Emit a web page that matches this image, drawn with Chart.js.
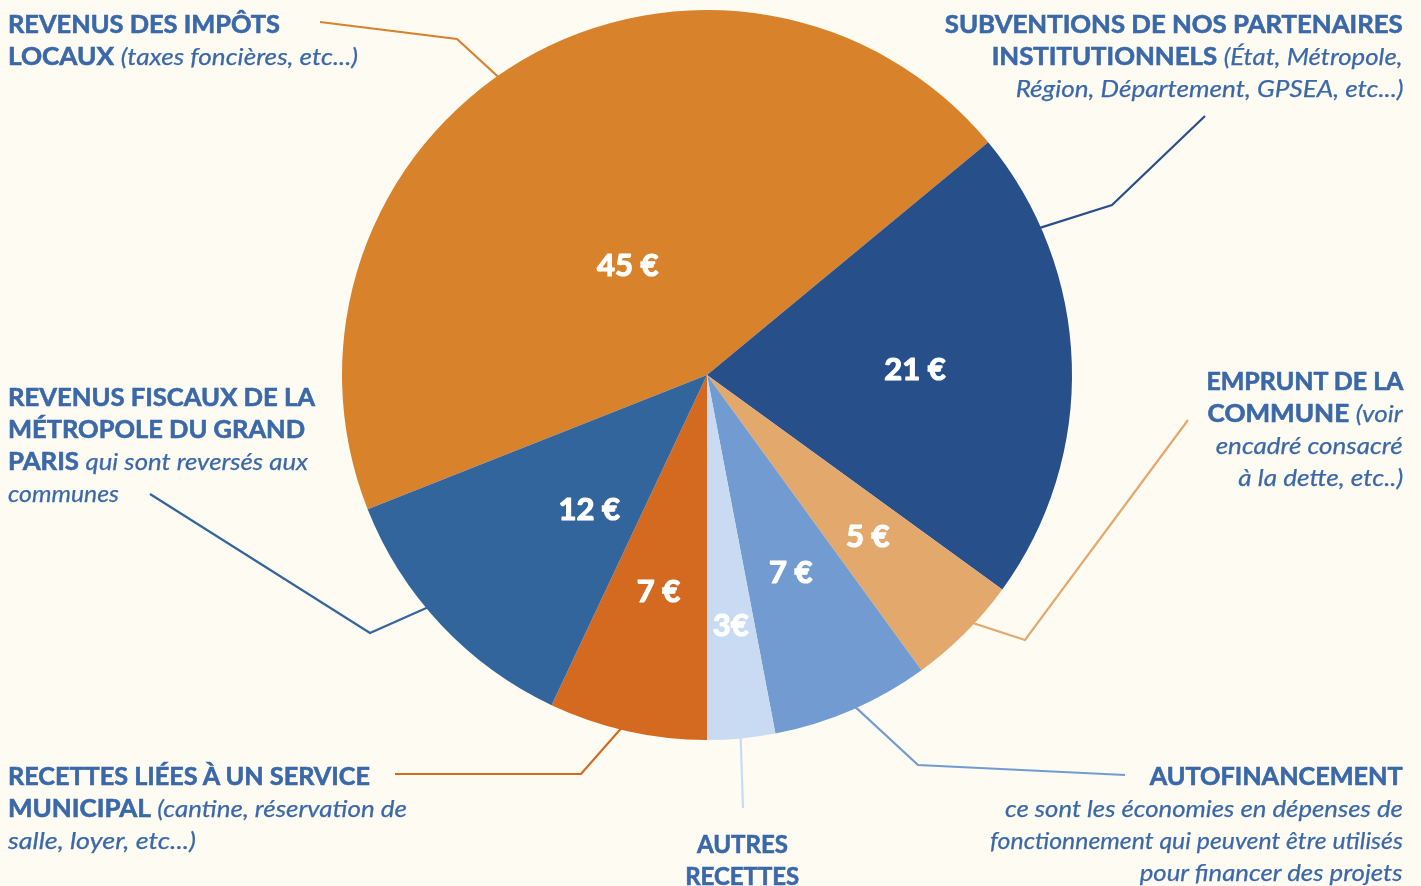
<!DOCTYPE html>
<html><head><meta charset="utf-8">
<script src="https://cdn.jsdelivr.net/npm/chart.js@4.4.1/dist/chart.umd.min.js"></script>
<style>
html,body{margin:0;padding:0;background:#FEFBF3;}
#wrap{position:relative;width:1421px;height:886px;overflow:hidden;background:#FEFBF3;}
canvas{position:absolute;left:0;top:0;}
.blk{position:absolute;font-family:Lato,sans-serif;color:#3A68A8;font-size:24px;line-height:32px;white-space:nowrap;}
.blk b{font-weight:700;-webkit-text-stroke:0.6px #3A68A8;}
.blk i{font-weight:400;font-style:italic;-webkit-text-stroke:0.25px #3A68A8;}
.blk span{display:inline-block;}
</style></head><body>
<div id="wrap"><canvas id="c" width="1421" height="886"></canvas></div>
<script>
// ---- data ----
const categories = [
  'Revenus des impôts locaux',
  'Subventions de nos partenaires institutionnels',
  'Emprunt de la commune',
  'Autofinancement',
  'Autres recettes',
  'Recettes liées à un service municipal',
  'Revenus fiscaux de la Métropole du Grand Paris'
];
const values = [45, 21, 5, 7, 3, 7, 12];
const valueLabels = ['45 €', '21 €', '5 €', '7 €', '3€', '7 €', '12 €'];

// ---- style ----
const colors = ['#D8822C', '#274F8A', '#E3A86B', '#729CD1', '#C9DBF2', '#D36A20', '#33659D'];
const labelPos = [[0.467, 0.37], [0.505, 0.57], [0.51, 0.625], [0.52, 0.59], [0.5, 0.69], [0.5, 0.61], [0.37, 0.49]];
const leaderStart = [0.475, 0.206, 0.43, 0.5, 0.5, 0.51, 0.57];
const leaderPaths = [
  [[457, 39], [320, 22]],
  [[1112, 205], [1205, 116]],
  [[1025, 640], [1188, 420]],
  [[918, 765], [1125, 775]],
  [[743, 808]],
  [[581, 774], [395, 774]],
  [[370, 633], [150, 494]]
];

const blocks = [
  {x: 8, y: 8, align: 'left', lines: [['<b>REVENUS DES IMPÔTS</b>', 272], ['<b>LOCAUX</b> <i>(taxes foncières, etc...)</i>', 350]]},
  {x: 1403, y: 8, align: 'right', lines: [['<b>SUBVENTIONS DE NOS PARTENAIRES</b>', 458], ['<b>INSTITUTIONNELS</b> <i>(État, Métropole,</i>', 411], ['<i>Région, Département, GPSEA, etc...)</i>', 388]]},
  {x: 8, y: 381, align: 'left', lines: [['<b>REVENUS FISCAUX DE LA</b>', 307], ['<b>MÉTROPOLE DU GRAND</b>', 297], ['<b>PARIS</b> <i>qui sont reversés aux</i>', 300], ['<i>communes</i>', 111]]},
  {x: 1403, y: 365, align: 'right', lines: [['<b>EMPRUNT DE LA</b>', 197], ['<b>COMMUNE</b> <i>(voir</i>', 195], ['<i>encadré consacré</i>', 187], ['<i>à la dette, etc..)</i>', 165]]},
  {x: 8, y: 760, align: 'left', lines: [['<b>RECETTES LIÉES À UN SERVICE</b>', 362], ['<b>MUNICIPAL</b> <i>(cantine, réservation de</i>', 399], ['<i>salle, loyer, etc...)</i>', 188]]},
  {x: 742, y: 828, align: 'center', lines: [['<b>AUTRES</b>', 91], ['<b>RECETTES</b>', 114]]},
  {x: 1403, y: 760, align: 'right', lines: [['<b>AUTOFINANCEMENT</b>', 253], ['<i>ce sont les économies en dépenses de</i>', 398], ['<i>fonctionnement qui peuvent être utilisés</i>', 413], ['<i>pour financer des projets</i>', 263]]}
];

const wrap = document.getElementById('wrap');
blocks.forEach(bk => {
  const d = document.createElement('div');
  d.className = 'blk';
  d.style.top = bk.y + 'px';
  d.style.textAlign = bk.align;
  if (bk.align === 'left') d.style.left = bk.x + 'px';
  else if (bk.align === 'right') d.style.right = (1421 - bk.x) + 'px';
  else { d.style.left = (bk.x - 200) + 'px'; d.style.width = '400px'; }
  bk.lines.forEach(([html, w]) => {
    const ln = document.createElement('div');
    const sp = document.createElement('span');
    sp.innerHTML = html;
    ln.appendChild(sp);
    d.appendChild(ln);
    sp.dataset.w = w;
    sp.style.transformOrigin = bk.align === 'left' ? 'left center' : (bk.align === 'right' ? 'right center' : 'center center');
  });
  wrap.appendChild(d);
});
document.querySelectorAll('.blk span').forEach(sp => {
  const k = parseFloat(sp.dataset.w) / sp.getBoundingClientRect().width;
  sp.style.transform = 'scaleX(' + k.toFixed(3) + ')';
});

function pointOnArc(el, t, rf) {
  const a = el.startAngle + (el.endAngle - el.startAngle) * t;
  const r = el.outerRadius * rf;
  return [el.x + Math.cos(a) * r, el.y + Math.sin(a) * r];
}

const leaderPlugin = {
  id: 'leaders',
  beforeDatasetsDraw(chart) {
    const ctx = chart.ctx;
    const arcs = chart.getDatasetMeta(0).data;
    ctx.save();
    ctx.lineWidth = 2.2;
    ctx.lineJoin = 'miter';
    arcs.forEach((el, i) => {
      const p0 = pointOnArc(el, leaderStart[i], 0.97);
      ctx.strokeStyle = colors[i];
      ctx.beginPath();
      ctx.moveTo(p0[0], p0[1]);
      leaderPaths[i].forEach(p => ctx.lineTo(p[0], p[1]));
      ctx.stroke();
    });
    ctx.restore();
  },
  afterDatasetsDraw(chart) {
    const ctx = chart.ctx;
    const arcs = chart.getDatasetMeta(0).data;
    ctx.save();
    ctx.fillStyle = '#FFFFFF';
    ctx.strokeStyle = '#FFFFFF';
    ctx.lineWidth = 1.2;
    ctx.lineJoin = 'round';
    ctx.font = 'bold 31px Lato, sans-serif';
    ctx.textAlign = 'center';
    ctx.textBaseline = 'middle';
    arcs.forEach((el, i) => {
      const p = pointOnArc(el, labelPos[i][0], labelPos[i][1]);
      ctx.fillText(valueLabels[i], p[0], p[1]);
      ctx.strokeText(valueLabels[i], p[0], p[1]);
    });
    ctx.restore();
  }
};

new Chart(document.getElementById('c'), {
  type: 'pie',
  data: {
    labels: categories,
    datasets: [{data: values, backgroundColor: colors, borderWidth: 0}]
  },
  options: {
    responsive: false,
    animation: false,
    events: [],
    rotation: -111.6,
    layout: {padding: {left: 342, right: 349, top: 10, bottom: 146}},
    plugins: {legend: {display: false}, tooltip: {enabled: false}}
  },
  plugins: [leaderPlugin]
});
</script>
</body></html>
